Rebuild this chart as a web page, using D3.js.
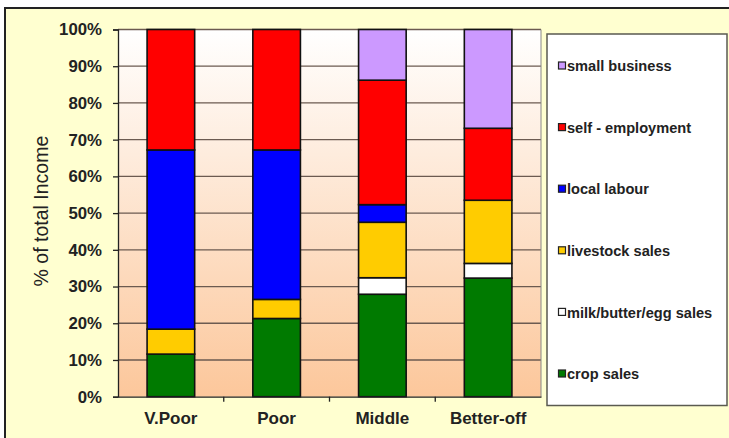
<!DOCTYPE html>
<html>
<head>
<meta charset="utf-8">
<script src="https://cdn.jsdelivr.net/npm/d3@7"></script>
<style>
  html, body { margin: 0; padding: 0; background: #fff; }
  svg { display: block; font-family: "Liberation Sans", Arial, sans-serif; }
</style>
</head>
<body>
<svg id="chart" width="729" height="438"></svg>
<script>
// Income sources by wealth group (% of total income)
const groups = ["V.Poor", "Poor", "Middle", "Better-off"];
const seriesNames = ["crop sales", "milk/butter/egg sales", "livestock sales", "local labour", "self - employment", "small business"];
const cropSales      = [11.6, 21.3, 27.9, 32.3];
const milkSales      = [0.0, 0.0, 4.5, 4.0];
const livestockSales = [6.8, 5.2, 15.1, 17.2];
const localLabour    = [48.8, 40.7, 4.8, 0.0];
const selfEmployment = [32.8, 32.8, 33.9, 19.6];
const smallBusiness  = [0.0, 0.0, 13.8, 26.9];
const yTicks = [0, 10, 20, 30, 40, 50, 60, 70, 80, 90, 100];
const seriesColors = ["#007A00", "#FFFFFF", "#FFCC00", "#0000FF", "#FF0000", "#CC99FF"];

const seriesValues = [cropSales, milkSales, livestockSales, localLabour, selfEmployment, smallBusiness];
const rows = groups.map((g, i) => {
  const r = { group: g };
  seriesNames.forEach((s, k) => { r[s] = seriesValues[k][i]; });
  return r;
});

const svg = d3.select("#chart");
const W = 729, H = 438;
const plot = { left: 118, right: 541, top: 29.5, bottom: 396.7 };
const FONT = "'Liberation Sans', Arial, sans-serif";

// chart area background and frame
svg.append("rect").attr("x", 0).attr("y", 0).attr("width", W).attr("height", H).attr("fill", "#fff");
svg.append("rect").attr("x", 5).attr("y", 8).attr("width", W + 10).attr("height", H + 10)
  .attr("fill", "#FFFFD0").attr("stroke", "#222").attr("stroke-width", 2);

// plot background gradient
const defs = svg.append("defs");
const grad = defs.append("linearGradient").attr("id", "plotBg").attr("x1", 0).attr("y1", 0).attr("x2", 0).attr("y2", 1);
grad.append("stop").attr("offset", "0%").attr("stop-color", "#FFFFFF");
grad.append("stop").attr("offset", "100%").attr("stop-color", "#FCC79B");

svg.append("rect").attr("x", plot.left).attr("y", plot.top)
  .attr("width", plot.right - plot.left).attr("height", plot.bottom - plot.top)
  .attr("fill", "url(#plotBg)");

const x = d3.scaleBand().domain(groups).range([plot.left, plot.right]).paddingInner(0.55).paddingOuter(0.275);
const xOuter = d3.scaleBand().domain(groups).range([plot.left, plot.right]);
const y = d3.scaleLinear().domain([0, 100]).range([plot.bottom, plot.top]);

// gridlines
svg.append("g").selectAll("line").data(yTicks.filter(t => t > 0)).join("line")
  .attr("x1", plot.left).attr("x2", plot.right)
  .attr("y1", d => y(d)).attr("y2", d => y(d))
  .attr("stroke", "#6b5a50").attr("stroke-width", 1.3);

// right edge of plot area
svg.append("line").attr("x1", plot.right).attr("x2", plot.right)
  .attr("y1", plot.top).attr("y2", plot.bottom).attr("stroke", "#888").attr("stroke-width", 1);

// stacked bars
const stack = d3.stack().keys(seriesNames);
const layers = stack(rows);
svg.append("g").selectAll("g").data(layers).join("g")
  .attr("fill", (d, i) => seriesColors[i])
  .selectAll("rect").data(d => d.filter(p => p[1] - p[0] > 0)).join("rect")
  .attr("x", d => x(d.data.group))
  .attr("width", x.bandwidth())
  .attr("y", d => y(d[1]))
  .attr("height", d => y(d[0]) - y(d[1]))
  .attr("stroke", "#111").attr("stroke-width", 1.6);

// y axis
const yAxis = svg.append("g").attr("transform", `translate(${plot.left},0)`)
  .call(d3.axisLeft(y).tickValues(yTicks).tickFormat(d => d + "%").tickSize(5).tickPadding(11));
yAxis.select(".domain").attr("stroke", "#222").attr("stroke-width", 1.3);
yAxis.selectAll(".tick line").attr("stroke", "#222").attr("stroke-width", 1.3);
yAxis.selectAll("text").attr("font-size", "16.8px").attr("font-weight", "bold").attr("fill", "#222")
  .attr("font-family", FONT);

// x axis
const xAxis = svg.append("g").attr("transform", `translate(0,${plot.bottom})`)
  .call(d3.axisBottom(xOuter).tickSize(0).tickPadding(15));
xAxis.select(".domain").attr("stroke", "#222").attr("stroke-width", 1.3);
xAxis.selectAll("text").attr("font-size", "17px").attr("font-weight", "bold").attr("fill", "#222")
  .attr("font-family", FONT);
// category separators below the axis
svg.append("g").selectAll("line").data(groups.slice(1)).join("line")
  .attr("x1", d => xOuter(d)).attr("x2", d => xOuter(d))
  .attr("y1", plot.bottom).attr("y2", plot.bottom + 5)
  .attr("stroke", "#222").attr("stroke-width", 1.3);

// y axis title
svg.append("text")
  .attr("transform", `translate(43,${(plot.top + plot.bottom) / 2 - 2}) rotate(-90)`)
  .attr("text-anchor", "middle").attr("dominant-baseline", "middle")
  .attr("font-size", "19.5px").attr("fill", "#222")
  .text("% of total Income");

// legend
const legend = svg.append("g");
legend.append("rect").attr("x", 547).attr("y", 34).attr("width", 180).attr("height", 371.5)
  .attr("fill", "#fff").attr("stroke", "#5a5a50").attr("stroke-width", 1.5);
const legendOrder = seriesNames.slice().reverse();
const ly = d3.scalePoint().domain(legendOrder).range([66, 374]);
const item = legend.selectAll("g.item").data(legendOrder).join("g").attr("class", "item")
  .attr("transform", d => `translate(558,${ly(d)})`);
item.append("rect").attr("x", 0.5).attr("y", -4).attr("width", 7).attr("height", 7)
  .attr("fill", d => seriesColors[seriesNames.indexOf(d)])
  .attr("stroke", "#222").attr("stroke-width", 1.2);
item.append("text").attr("x", 9).attr("y", 0).attr("dy", "0.35em")
  .attr("font-size", "14.6px").attr("font-weight", "bold").attr("fill", "#222")
  .text(d => d);
</script>
</body>
</html>
